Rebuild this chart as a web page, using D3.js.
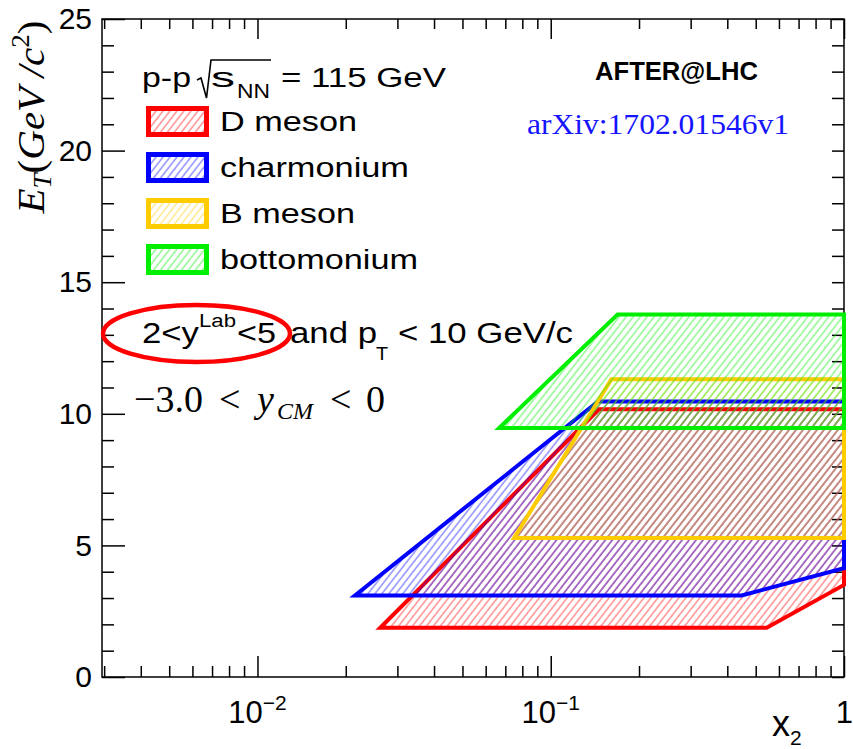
<!DOCTYPE html>
<html lang="en">
<head>
<meta charset="UTF-8">
<title>AFTER@LHC kinematic coverage</title>
<script src="https://d3js.org/d3.v7.min.js"></script>
<style>
  body { margin: 0; background: #fff; }
  text { font-family: "Liberation Sans", Arial, Helvetica, sans-serif; fill: #000; }
  .serif { font-family: "Liberation Serif", "Times New Roman", serif; }
</style>
</head>
<body>
<script>
    // 类别
    var species = ['D meson', 'charmonium', 'B meson', 'bottomonium'];
    // 每个区域的顶点 [x2, E_T]
    var dMeson = [[0.0262, 1.87], [0.545, 1.87], [1, 3.5], [1, 10.17], [0.146, 10.17]];
    var charmonium = [[0.0215, 3.10], [0.448, 3.10], [1, 4.13], [1, 10.47], [0.145, 10.47]];
    var bMeson = [[0.075, 5.28], [1, 5.28], [1, 11.31], [0.161, 11.31]];
    var bottomonium = [[0.0667, 9.46], [1, 9.46], [1, 13.77], [0.169, 13.77]];
    var regions = [dMeson, charmonium, bMeson, bottomonium];
    var colors = ['#ff0000', '#0000ff', '#ffcc00', '#00ee00'];
    // 坐标轴刻度
    var xMajor = [0.01, 0.1, 1];
    var xBase = ['10', '10', '1'];
    var xExp = ['\u22122', '\u22121', ''];
    var yMajor = [0, 5, 10, 15, 20, 25];

    var width = 853, height = 749;
    var svg = d3.select('body').append('svg').attr('width', width).attr('height', height);

    var x = d3.scaleLog().domain([0.00295, 1]).range([102, 844]);
    var y = d3.scaleLinear().domain([0, 25]).range([677, 19]);

    // 斜线填充
    var defs = svg.append('defs');
    colors.forEach(function (c, i) {
        var p = defs.append('pattern')
            .attr('id', 'hatch' + i)
            .attr('patternUnits', 'userSpaceOnUse')
            .attr('width', 5.5).attr('height', 5.5)
            .attr('patternTransform', 'rotate(38)');
        p.append('line')
            .attr('x1', 1).attr('y1', 0).attr('x2', 1).attr('y2', 5.5)
            .attr('stroke', c).attr('stroke-width', 1.1).attr('stroke-opacity', 0.6);
    });

    // 框
    svg.append('rect')
        .attr('x', x.range()[0]).attr('y', y.range()[1])
        .attr('width', x.range()[1] - x.range()[0])
        .attr('height', y.range()[0] - y.range()[1])
        .attr('fill', 'none').attr('stroke', '#000').attr('stroke-width', 1.5);

    // 刻度
    var xMinor = x.ticks().filter(function (d) { return xMajor.indexOf(d) < 0; });
    var yMinor = y.ticks(25).filter(function (d) { return d % 5 !== 0; });

    function tickGroup(axis, tr) {
        var g = svg.append('g').attr('transform', tr).call(axis);
        g.select('.domain').remove();
        g.selectAll('line').attr('stroke', '#000').attr('stroke-width', 1.5);
        return g;
    }
    tickGroup(d3.axisBottom(x).tickValues(xMinor).tickSize(-11).tickFormat(''), 'translate(0,' + y(0) + ')');
    tickGroup(d3.axisBottom(x).tickValues(xMajor).tickSize(-21).tickFormat(''), 'translate(0,' + y(0) + ')');
    tickGroup(d3.axisTop(x).tickValues(xMinor).tickSize(-10).tickFormat(''), 'translate(0,' + y(25) + ')');
    tickGroup(d3.axisTop(x).tickValues(xMajor).tickSize(-20).tickFormat(''), 'translate(0,' + y(25) + ')');
    tickGroup(d3.axisLeft(y).tickValues(yMinor).tickSize(-12).tickFormat(''), 'translate(' + x(0.00295) + ',0)');
    var yl = tickGroup(d3.axisLeft(y).tickValues(yMajor).tickSize(-23).tickPadding(10), 'translate(' + x(0.00295) + ',0)');
    yl.selectAll('text').attr('font-size', 30).attr('font-family', '"Liberation Sans", Arial, sans-serif').attr('fill', '#000');
    tickGroup(d3.axisRight(y).tickValues(y.ticks(25)).tickSize(-12).tickFormat(''), 'translate(' + x(1) + ',0)');

    // x 轴标签
    var xl = svg.append('g').selectAll('text').data(xMajor).enter().append('text')
        .attr('x', function (d, i) { return xExp[i] ? x(d) : 853; })
        .attr('y', 723)
        .attr('text-anchor', function (d, i) { return xExp[i] ? 'middle' : 'end'; })
        .attr('font-size', 31);
    xl.append('tspan').text(function (d, i) { return xBase[i]; });
    xl.append('tspan').attr('font-size', 21).attr('dy', -13).text(function (d, i) { return xExp[i]; });

    var xt = svg.append('text').attr('x', 772).attr('y', 736).attr('font-size', 36);
    xt.append('tspan').text('x');
    xt.append('tspan').attr('font-size', 21).attr('dy', 9).text('2');

    // y 轴标题
    var yt = svg.append('text').attr('class', 'serif')
        .attr('transform', 'translate(44,117) rotate(-90)')
        .attr('text-anchor', 'middle').attr('font-size', 38)
        .attr('textLength', 193).attr('lengthAdjust', 'spacingAndGlyphs');
    yt.append('tspan').attr('font-style', 'italic').text('E');
    yt.append('tspan').attr('font-style', 'italic').attr('font-size', 25).attr('dy', 7).text('T');
    yt.append('tspan').attr('dy', -7).text('(');
    yt.append('tspan').attr('font-style', 'italic').text('GeV /c');
    yt.append('tspan').attr('font-size', 25).attr('dy', -15).text('2');
    yt.append('tspan').attr('dy', 15).text(')');

    // 区域
    var line = d3.line().x(function (d) { return x(d[0]); }).y(function (d) { return y(d[1]); })
        .curve(d3.curveLinearClosed);
    svg.append('g').selectAll('path').data(regions).enter().append('path')
        .attr('d', line)
        .attr('fill', function (d, i) { return 'url(#hatch' + i + ')'; })
        .attr('stroke', function (d, i) { return colors[i]; })
        .attr('stroke-width', 4)
        .attr('stroke-linejoin', 'miter');

    // 图例
    var legend = svg.append('g').selectAll('g').data(species).enter().append('g')
        .attr('transform', function (d, i) { return 'translate(0,' + (121.5 + i * 46) + ')'; });
    legend.append('rect')
        .attr('x', 148.5).attr('y', -13).attr('width', 58).attr('height', 26)
        .attr('fill', function (d, i) { return 'url(#hatch' + i + ')'; })
        .attr('stroke', function (d, i) { return colors[i]; })
        .attr('stroke-width', 5);
    var legendW = [137, 189, 135, 198];
    legend.append('text')
        .attr('x', 220).attr('y', 9.5).attr('font-size', 27)
        .attr('textLength', function (d, i) { return legendW[i]; })
        .attr('lengthAdjust', 'spacingAndGlyphs')
        .text(function (d) { return d; });

    // 标题行 p-p sqrt(s_NN) = 115 GeV
    svg.append('text').attr('x', 142).attr('y', 87).attr('font-size', 27)
        .attr('textLength', 49).attr('lengthAdjust', 'spacingAndGlyphs').text('p-p');
    svg.append('path').attr('d', 'M197,80 L201,78 L206.5,98 L211,60 L271,60')
        .attr('fill', 'none').attr('stroke', '#000').attr('stroke-width', 1.6);
    svg.append('text').attr('x', 211).attr('y', 87).attr('font-size', 27)
        .attr('textLength', 24).attr('lengthAdjust', 'spacingAndGlyphs').text('s');
    svg.append('text').attr('x', 237).attr('y', 98).attr('font-size', 21)
        .attr('textLength', 33).attr('lengthAdjust', 'spacingAndGlyphs').text('NN');
    svg.append('text').attr('x', 281).attr('y', 87).attr('font-size', 27)
        .attr('textLength', 165).attr('lengthAdjust', 'spacingAndGlyphs').text('= 115 GeV');

    // 右上角
    svg.append('text').attr('x', 595).attr('y', 80).attr('font-size', 25).attr('font-weight', 'bold')
        .attr('textLength', 163).attr('lengthAdjust', 'spacingAndGlyphs').text('AFTER@LHC');
    svg.append('text').attr('class', 'serif').attr('x', 527).attr('y', 134).attr('font-size', 30)
        .style('fill', '#1414ff')
        .attr('textLength', 262).attr('lengthAdjust', 'spacingAndGlyphs').text('arXiv:1702.01546v1');

    // 2<y^Lab<5 and p_T < 10 GeV/c
    var bl = 343;
    svg.append('text').attr('x', 142).attr('y', bl).attr('font-size', 30)
        .attr('textLength', 57).attr('lengthAdjust', 'spacingAndGlyphs').text('2<y');
    svg.append('text').attr('x', 199).attr('y', 327).attr('font-size', 18)
        .attr('textLength', 37).attr('lengthAdjust', 'spacingAndGlyphs').text('Lab');
    svg.append('text').attr('x', 237).attr('y', bl).attr('font-size', 30)
        .attr('textLength', 39).attr('lengthAdjust', 'spacingAndGlyphs').text('<5');
    svg.append('text').attr('x', 290).attr('y', bl).attr('font-size', 30)
        .attr('textLength', 87).attr('lengthAdjust', 'spacingAndGlyphs').text('and p');
    svg.append('text').attr('x', 376).attr('y', 360).attr('font-size', 19)
        .attr('textLength', 12).attr('lengthAdjust', 'spacingAndGlyphs').text('T');
    svg.append('text').attr('x', 398).attr('y', bl).attr('font-size', 30)
        .attr('textLength', 175).attr('lengthAdjust', 'spacingAndGlyphs').text('< 10 GeV/c');

    // 红色椭圆
    svg.append('ellipse').attr('cx', 196.5).attr('cy', 333.5).attr('rx', 93.5).attr('ry', 28.5)
        .attr('fill', 'none').attr('stroke', '#ff0000').attr('stroke-width', 4.5);

    // -3.0 < y_CM < 0
    var cm = [['\u22123.0', 134, 412, 38, 'normal'], ['<', 219, 412, 38, 'normal'],
              ['y', 257, 412, 38, 'italic'], ['CM', 277, 419, 24, 'italic'],
              ['<', 330, 412, 38, 'normal'], ['0', 366, 412, 38, 'normal']];
    svg.append('g').selectAll('text').data(cm).enter().append('text')
        .attr('class', 'serif')
        .attr('x', function (d) { return d[1]; })
        .attr('y', function (d) { return d[2]; })
        .attr('font-size', function (d) { return d[3]; })
        .attr('font-style', function (d) { return d[4]; })
        .text(function (d) { return d[0]; });
</script>
</body>
</html>
